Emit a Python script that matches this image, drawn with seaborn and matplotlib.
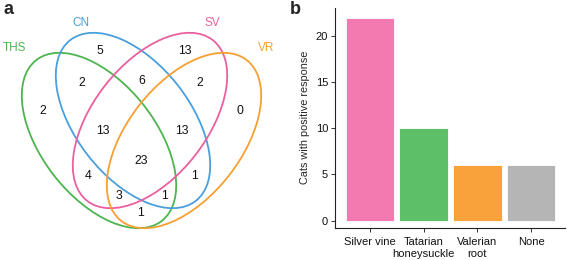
import matplotlib
matplotlib.use("Agg")
import matplotlib.pyplot as plt
from matplotlib.patches import Ellipse
import seaborn as sns
import pandas as pd

# ---- data ----
set_names = ["THS", "CN", "SV", "VR"]
# region counts (Venn panel a)
region_keys = ["CN", "SV", "THS", "VR", "THS&CN", "CN&SV", "SV&VR",
               "THS&CN&SV", "CN&SV&VR", "ALL", "THS&SV", "CN&VR",
               "THS&SV&VR", "THS&CN&VR", "THS&VR"]
region_counts = [5, 13, 2, 0, 2, 6, 2, 13, 13, 23, 4, 1, 3, 1, 1]

# bar panel b
plants = ["Silver vine", "Tatarian\nhoneysuckle", "Valerian\nroot", "None"]
cats_positive = [22, 10, 6, 6]
yticks = [0, 5, 10, 15, 20]

# ---- styles / layout ----
venn_colors = {"THS": "#4db44f", "CN": "#4a9fdc", "SV": "#ea609f", "VR": "#f6a032"}
bar_colors = ["#f27ab0", "#5dbf67", "#f9a13a", "#b5b5b5"]

H = 260
# ellipse layout in pixel coords (y measured from top)
ell_layout = {
    "THS": (99, 140.5, -52),
    "CN": (133, 120.5, -52),
    "SV": (150, 120.5, 52),
    "VR": (184, 140.5, 52),
}
label_pos = {"THS": (14, 48), "CN": (81, 23), "SV": (212, 23), "VR": (266, 48)}
region_pos = {
    "CN": (100, 51), "SV": (185, 51), "THS": (43, 111), "VR": (240, 111),
    "THS&CN": (82, 83), "CN&SV": (142, 81), "SV&VR": (200, 83),
    "THS&CN&SV": (103, 131), "CN&SV&VR": (182, 131), "ALL": (141, 161),
    "THS&SV": (88, 176), "CN&VR": (195, 176), "THS&SV&VR": (119, 196),
    "THS&CN&VR": (164, 196), "THS&VR": (141, 213),
}

sns.set_theme(style="ticks")
plt.rcParams["font.family"] = ["Liberation Sans", "DejaVu Sans"]

fig = plt.figure(figsize=(5.67, 2.6), dpi=100)

# ---- panel a: Venn ----
axv = fig.add_axes([0, 0, 290 / 567, 1])
axv.set_xlim(0, 290)
axv.set_ylim(0, H)
axv.set_aspect("equal")
axv.axis("off")
for name in set_names:
    cx, cy, ang = ell_layout[name]
    e = Ellipse((cx, H - cy), width=2 * 102, height=2 * 57, angle=ang,
                fill=False, edgecolor=venn_colors[name], linewidth=1.3)
    axv.add_patch(e)
    lx, ly = label_pos[name]
    axv.text(lx, H - ly, name, color=venn_colors[name], fontsize=8.5,
             ha="center", va="center")
for key, cnt in zip(region_keys, region_counts):
    x, y = region_pos[key]
    axv.text(x, H - y, str(cnt), fontsize=8.8, ha="center", va="center",
             color="#111111")

fig.text(4 / 567, 1 - 10 / H, "a", fontsize=13, fontweight="bold",
         ha="left", va="center")
fig.text(290 / 567, 1 - 10 / H, "b", fontsize=13, fontweight="bold",
         ha="left", va="center")

# ---- panel b: bars ----
axb = fig.add_axes([335 / 567, (H - 228) / H, 230 / 567, (228 - 7.5) / H])
df = pd.DataFrame({"plant": plants, "count": cats_positive})
sns.barplot(data=df, x="plant", y="count", hue="plant", palette=bar_colors,
            legend=False, ax=axb, width=0.9, edgecolor="white", linewidth=0.6,
            saturation=1)
axb.set_xlim(-0.65, 3.63)
axb.set_ylim(-0.8, 23.1)
axb.set_yticks(yticks)
axb.set_xlabel("")
axb.set_ylabel("Cats with positive response", fontsize=7.8, labelpad=4)
axb.tick_params(axis="both", labelsize=8, length=3, width=0.7,
                color="#333333", labelcolor="#111111", pad=2)
axb.tick_params(axis="x", pad=3.5)
for s in ["top", "right"]:
    axb.spines[s].set_visible(False)
for s in ["left", "bottom"]:
    axb.spines[s].set_linewidth(0.8)
    axb.spines[s].set_color("#222222")

fig.savefig("out.png", dpi=100)
